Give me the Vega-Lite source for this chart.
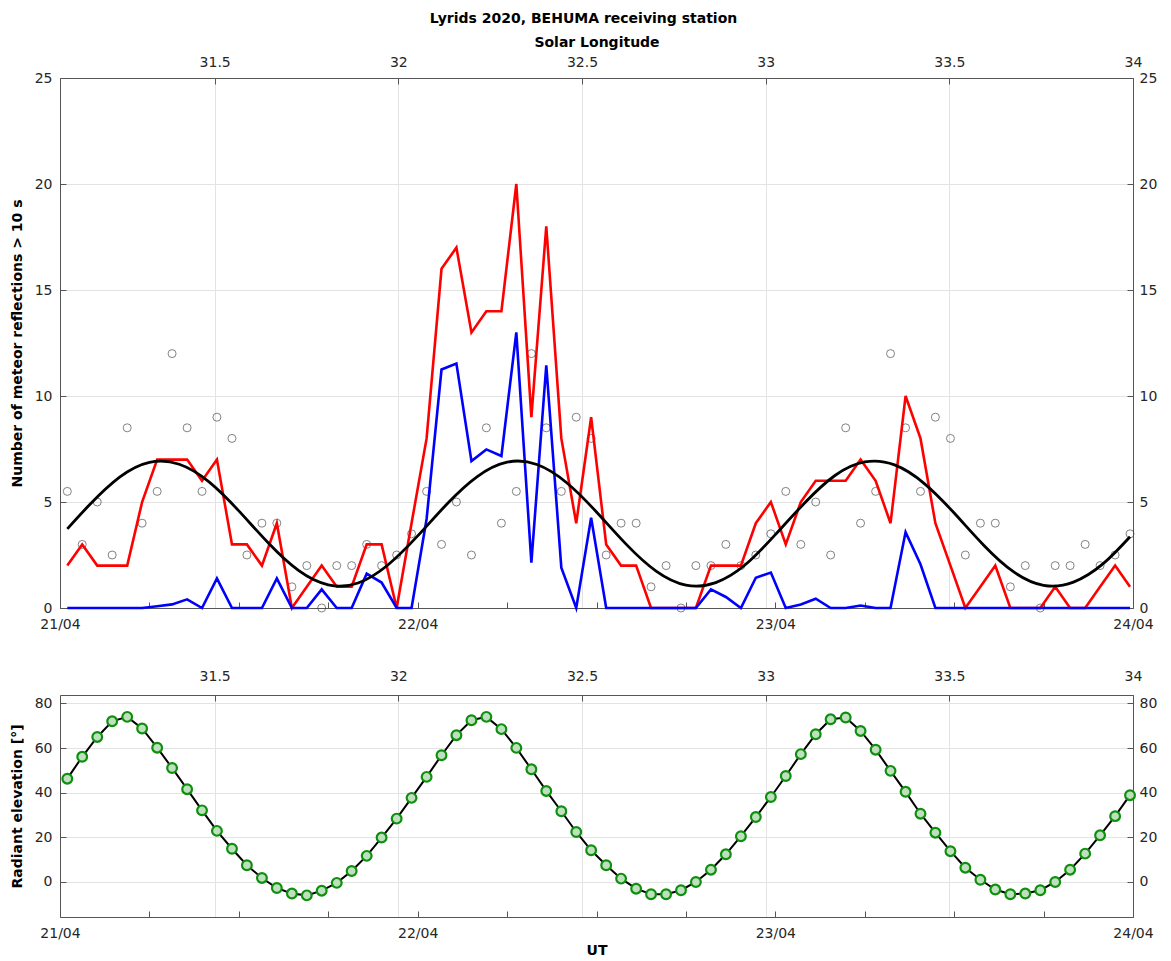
{
  "$schema": "https://vega.github.io/schema/vega-lite/v6.json",
  "padding": {"left": 10, "top": 12, "right": 5, "bottom": 5},
  "background": "white",
  "title": {"text": "Lyrids 2020, BEHUMA receiving station", "fontSize": 14, "fontWeight": "bold", "color": "#000000", "anchor": "middle", "offset": 9, "font": "DejaVu Sans"},
  "config": {
    "font": "DejaVu Sans",
    "view": {"stroke": null},
    "axis": {"labelFontSize": 14, "labelColor": "#262626", "titleFontSize": 14, "titleFontWeight": "bold", "titleColor": "#000000", "domainColor": "#555555", "tickColor": "#555555", "gridColor": "#e3e3e3", "tickSize": -6, "labelPadding": 12, "labelFlush": false, "labelFont": "DejaVu Sans", "titleFont": "DejaVu Sans"}
  },
  "datasets": {
    "sl": [{"sl": 31.5, "v": 0}, {"sl": 32, "v": 0}, {"sl": 32.5, "v": 0}, {"sl": 33, "v": 0}, {"sl": 33.5, "v": 0}, {"sl": 34, "v": 0}],
    "hourly": [
      {"h": 0.49, "r": 2, "b": 0, "a": 5.5, "e": 46.3},
      {"h": 1.49, "r": 3, "b": 0, "a": 3, "e": 56.1},
      {"h": 2.50, "r": 2, "b": 0, "a": 5, "e": 65.0},
      {"h": 3.50, "r": 2, "b": 0, "a": 2.5, "e": 72.0},
      {"h": 4.51, "r": 2, "b": 0, "a": 8.5, "e": 74.0},
      {"h": 5.51, "r": 5, "b": 0, "a": 4, "e": 68.8},
      {"h": 6.52, "r": 7, "b": 0.08, "a": 5.5, "e": 60.2},
      {"h": 7.52, "r": 7, "b": 0.17, "a": 12, "e": 51.1},
      {"h": 8.53, "r": 7, "b": 0.41, "a": 8.5, "e": 41.6},
      {"h": 9.53, "r": 6, "b": 0, "a": 5.5, "e": 32.1},
      {"h": 10.53, "r": 7, "b": 1.4, "a": 9, "e": 22.9},
      {"h": 11.54, "r": 3, "b": 0, "a": 8, "e": 14.9},
      {"h": 12.54, "r": 3, "b": 0, "a": 2.5, "e": 7.5},
      {"h": 13.55, "r": 2, "b": 0, "a": 4, "e": 1.8},
      {"h": 14.55, "r": 4, "b": 1.4, "a": 4, "e": -2.7},
      {"h": 15.56, "r": 0, "b": 0, "a": 1, "e": -5.2},
      {"h": 16.56, "r": 1, "b": 0, "a": 2, "e": -6.0},
      {"h": 17.56, "r": 2, "b": 0.88, "a": 0, "e": -3.9},
      {"h": 18.57, "r": 1, "b": 0, "a": 2, "e": -0.4},
      {"h": 19.57, "r": 1, "b": 0, "a": 2, "e": 4.9},
      {"h": 20.58, "r": 3, "b": 1.62, "a": 3, "e": 11.7},
      {"h": 21.58, "r": 3, "b": 1.2, "a": 2, "e": 19.9},
      {"h": 22.59, "r": 0, "b": 0, "a": 2.5, "e": 28.4},
      {"h": 23.59, "r": 4, "b": 0, "a": 3.5, "e": 37.7},
      {"h": 24.60, "r": 8, "b": 4.2, "a": 5.5, "e": 47.1},
      {"h": 25.60, "r": 16, "b": 11.25, "a": 3, "e": 56.8},
      {"h": 26.60, "r": 17, "b": 11.53, "a": 5, "e": 65.8},
      {"h": 27.61, "r": 13, "b": 6.93, "a": 2.5, "e": 72.5},
      {"h": 28.61, "r": 14, "b": 7.48, "a": 8.5, "e": 74.0},
      {"h": 29.62, "r": 14, "b": 7.17, "a": 4, "e": 68.5},
      {"h": 30.62, "r": 20, "b": 13, "a": 5.5, "e": 60.1},
      {"h": 31.63, "r": 9, "b": 2.14, "a": 12, "e": 50.5},
      {"h": 32.63, "r": 18, "b": 11.45, "a": 8.5, "e": 40.8},
      {"h": 33.64, "r": 8, "b": 1.9, "a": 5.5, "e": 31.7},
      {"h": 34.64, "r": 4, "b": 0, "a": 9, "e": 22.4},
      {"h": 35.64, "r": 9, "b": 4.26, "a": 8, "e": 14.2},
      {"h": 36.65, "r": 3, "b": 0, "a": 2.5, "e": 7.5},
      {"h": 37.65, "r": 2, "b": 0, "a": 4, "e": 1.5},
      {"h": 38.66, "r": 2, "b": 0, "a": 4, "e": -3.0},
      {"h": 39.66, "r": 0, "b": 0, "a": 1, "e": -5.5},
      {"h": 40.67, "r": 0, "b": 0, "a": 2, "e": -5.5},
      {"h": 41.67, "r": 0, "b": 0, "a": 0, "e": -3.7},
      {"h": 42.67, "r": 0, "b": 0, "a": 2, "e": 0.0},
      {"h": 43.68, "r": 2, "b": 0.88, "a": 2, "e": 5.5},
      {"h": 44.68, "r": 2, "b": 0.52, "a": 3, "e": 12.4},
      {"h": 45.69, "r": 2, "b": 0, "a": 2, "e": 20.5},
      {"h": 46.69, "r": 4, "b": 1.43, "a": 2.5, "e": 29.1},
      {"h": 47.70, "r": 5, "b": 1.67, "a": 3.5, "e": 38.1},
      {"h": 48.70, "r": 3, "b": 0, "a": 5.5, "e": 47.5},
      {"h": 49.71, "r": 5, "b": 0.17, "a": 3, "e": 57.3},
      {"h": 50.71, "r": 6, "b": 0.44, "a": 5, "e": 66.2},
      {"h": 51.71, "r": 6, "b": 0, "a": 2.5, "e": 72.9},
      {"h": 52.72, "r": 6, "b": 0, "a": 8.5, "e": 73.7},
      {"h": 53.72, "r": 7, "b": 0.12, "a": 4, "e": 67.7},
      {"h": 54.73, "r": 6, "b": 0, "a": 5.5, "e": 59.3},
      {"h": 55.73, "r": 4, "b": 0, "a": 12, "e": 49.8},
      {"h": 56.74, "r": 10, "b": 3.58, "a": 8.5, "e": 40.4},
      {"h": 57.74, "r": 8, "b": 2.06, "a": 5.5, "e": 30.6},
      {"h": 58.74, "r": 4, "b": 0, "a": 9, "e": 22.1},
      {"h": 59.75, "r": 2, "b": 0, "a": 8, "e": 13.8},
      {"h": 60.75, "r": 0, "b": 0, "a": 2.5, "e": 6.4},
      {"h": 61.76, "r": 1, "b": 0, "a": 4, "e": 1.0},
      {"h": 62.76, "r": 2, "b": 0, "a": 4, "e": -3.4},
      {"h": 63.77, "r": 0, "b": 0, "a": 1, "e": -5.5},
      {"h": 64.77, "r": 0, "b": 0, "a": 2, "e": -5.2},
      {"h": 65.78, "r": 0, "b": 0, "a": 0, "e": -3.7},
      {"h": 66.78, "r": 1, "b": 0, "a": 2, "e": 0.0},
      {"h": 67.78, "r": 0, "b": 0, "a": 2, "e": 5.5},
      {"h": 68.79, "r": 0, "b": 0, "a": 3, "e": 12.7},
      {"h": 69.79, "r": 1, "b": 0, "a": 2, "e": 20.9},
      {"h": 70.80, "r": 2, "b": 0, "a": 2.5, "e": 29.5},
      {"h": 71.80, "r": 1, "b": 0, "a": 3.5, "e": 38.9}
    ],
    "fit": [
      {"h": 0.49, "f": 3.73}, {"h": 2, "f": 4.88}, {"h": 4, "f": 6.17}, {"h": 6, "f": 6.87}, {"h": 8, "f": 6.78},
      {"h": 10, "f": 5.95}, {"h": 12, "f": 4.58}, {"h": 14, "f": 3.05}, {"h": 16, "f": 1.77}, {"h": 18, "f": 1.09},
      {"h": 20, "f": 1.18}, {"h": 22, "f": 2.03}, {"h": 24, "f": 3.40}, {"h": 26, "f": 4.93}, {"h": 28, "f": 6.20},
      {"h": 30, "f": 6.88}, {"h": 32, "f": 6.77}, {"h": 34, "f": 5.91}, {"h": 36, "f": 4.53}, {"h": 38, "f": 3.00},
      {"h": 40, "f": 1.74}, {"h": 42, "f": 1.08}, {"h": 44, "f": 1.20}, {"h": 46, "f": 2.05}, {"h": 48, "f": 3.46},
      {"h": 50, "f": 4.98}, {"h": 52, "f": 6.25}, {"h": 54, "f": 6.89}, {"h": 56, "f": 6.75}, {"h": 58, "f": 5.87},
      {"h": 60, "f": 4.48}, {"h": 62, "f": 2.95}, {"h": 64, "f": 1.70}, {"h": 66, "f": 1.07}, {"h": 68, "f": 1.22},
      {"h": 70, "f": 2.09}, {"h": 71.8, "f": 3.36}
    ]
  },
  "spacing": 38,
  "vconcat": [
    {
      "width": 1073,
      "height": 530,
      "layer": [
        {
          "data": {"name": "sl"},
          "mark": {"type": "point", "opacity": 0},
          "encoding": {
            "x": {"field": "sl", "type": "quantitative", "scale": {"domain": [31.079, 34], "nice": false, "zero": false},
                  "axis": {"orient": "top", "values": [31.5, 32, 32.5, 33, 33.5, 34], "format": "~g", "title": "Solar Longitude", "grid": true, "titlePadding": 6, "labelPadding": 15}},
            "y": {"field": "v", "type": "quantitative", "scale": {"domain": [0, 25], "nice": false},
                  "axis": {"orient": "right", "values": [0, 5, 10, 15, 20, 25], "title": null, "grid": false}}
          }
        },
        {
          "layer": [
            {
              "data": {"name": "hourly"},
              "mark": {"type": "point", "shape": "circle", "filled": false, "size": 64, "stroke": "#3a3a3a", "strokeWidth": 0.9},
              "encoding": {
                "x": {"field": "h", "type": "quantitative", "title": null, "scale": {"domain": [0, 72], "nice": false, "zero": false},
                      "axis": {"orient": "bottom", "values": [0, 6, 12, 18, 24, 30, 36, 42, 48, 54, 60, 66, 72], "grid": false, "labelOverlap": false, "labelPadding": 15,
                               "labelExpr": "datum.value == 0 ? '21/04' : datum.value == 24 ? '22/04' : datum.value == 48 ? '23/04' : datum.value == 72 ? '24/04' : ''"}},
                "y": {"field": "a", "type": "quantitative", "title": "Number of meteor reflections > 10 s", "scale": {"domain": [0, 25], "nice": false},
                      "axis": {"orient": "left", "values": [0, 5, 10, 15, 20, 25], "grid": true, "titlePadding": 10, "labelPadding": 14}}
              }
            },
            {
              "data": {"name": "hourly"},
              "mark": {"type": "line", "color": "#ff0000", "strokeWidth": 2.6},
              "encoding": {
                "x": {"field": "h", "type": "quantitative", "title": null},
                "y": {"field": "r", "type": "quantitative", "title": "Number of meteor reflections > 10 s"}
              }
            },
            {
              "data": {"name": "hourly"},
              "mark": {"type": "line", "color": "#0000ff", "strokeWidth": 2.6},
              "encoding": {
                "x": {"field": "h", "type": "quantitative", "title": null},
                "y": {"field": "b", "type": "quantitative", "title": "Number of meteor reflections > 10 s"}
              }
            },
            {
              "data": {"name": "fit"},
              "mark": {"type": "line", "color": "#000000", "strokeWidth": 2.8, "interpolate": "natural"},
              "encoding": {
                "x": {"field": "h", "type": "quantitative", "title": null},
                "y": {"field": "f", "type": "quantitative", "title": "Number of meteor reflections > 10 s"}
              }
            }
          ]
        }
      ],
      "resolve": {"scale": {"x": "independent", "y": "independent"}}
    },
    {
      "width": 1073,
      "height": 222,
      "layer": [
        {
          "data": {"name": "sl"},
          "mark": {"type": "point", "opacity": 0},
          "encoding": {
            "x": {"field": "sl", "type": "quantitative", "scale": {"domain": [31.079, 34], "nice": false, "zero": false},
                  "axis": {"orient": "top", "values": [31.5, 32, 32.5, 33, 33.5, 34], "format": "~g", "title": null, "grid": true, "labelPadding": 18}},
            "y": {"field": "v", "type": "quantitative", "scale": {"domain": [-15.7, 83.8], "nice": false, "zero": false},
                  "axis": {"orient": "right", "values": [0, 20, 40, 60, 80], "title": null, "grid": false}}
          }
        },
        {
          "layer": [
            {
              "data": {"name": "hourly"},
              "mark": {"type": "line", "color": "#000000", "strokeWidth": 2},
              "encoding": {
                "x": {"field": "h", "type": "quantitative", "title": "UT", "scale": {"domain": [0, 72], "nice": false, "zero": false},
                      "axis": {"orient": "bottom", "values": [0, 6, 12, 18, 24, 30, 36, 42, 48, 54, 60, 66, 72], "grid": false, "labelOverlap": false, "titlePadding": 3, "labelPadding": 15,
                               "labelExpr": "datum.value == 0 ? '21/04' : datum.value == 24 ? '22/04' : datum.value == 48 ? '23/04' : datum.value == 72 ? '24/04' : ''"}},
                "y": {"field": "e", "type": "quantitative", "title": "Radiant elevation [°]", "scale": {"domain": [-15.7, 83.8], "nice": false, "zero": false},
                      "axis": {"orient": "left", "values": [0, 20, 40, 60, 80], "grid": true, "titlePadding": 10, "labelPadding": 14}}
              }
            },
            {
              "data": {"name": "hourly"},
              "mark": {"type": "point", "shape": "circle", "filled": true, "size": 95, "fill": "#bfe0bf", "fillOpacity": 1, "stroke": "#0e900e", "strokeWidth": 2.2},
              "encoding": {
                "x": {"field": "h", "type": "quantitative", "title": "UT"},
                "y": {"field": "e", "type": "quantitative", "title": "Radiant elevation [°]"}
              }
            }
          ]
        }
      ],
      "resolve": {"scale": {"x": "independent", "y": "independent"}}
    }
  ]
}
